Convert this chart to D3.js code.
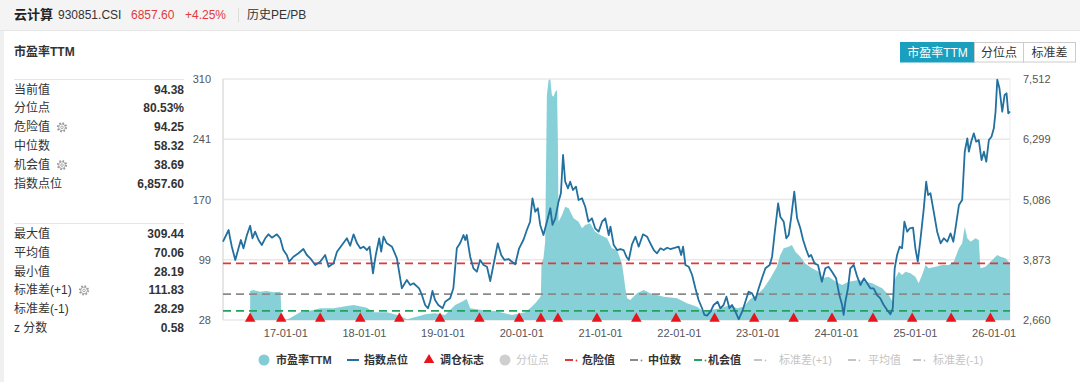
<!DOCTYPE html>
<html><head><meta charset="utf-8">
<script src="https://cdn.jsdelivr.net/npm/d3@7"></script>
<style>
html,body{margin:0;padding:0;background:#fff;}
svg{display:block;font-family:"Liberation Sans","Noto Sans CJK SC",sans-serif;}
</style></head>
<body><svg id="c" width="1080" height="382"></svg>
<script>
// ---------------- DATA ----------------
const indexDates = ["2016-03-18","2016-04-13","2016-04-20","2016-04-28","2016-05-14","2016-05-29","2016-06-09","2016-06-21","2016-07-07","2016-07-22","2016-08-02","2016-08-14","2016-08-30","2016-09-14","2016-09-30","2016-10-15","2016-10-31","2016-11-23","2016-12-08","2016-12-23",
"2017-01-08","2017-01-19","2017-02-08","2017-03-03","2017-03-26","2017-04-11","2017-04-27","2017-05-20","2017-06-12","2017-07-05","2017-07-21","2017-08-13","2017-08-29","2017-09-21","2017-10-14","2017-10-29","2017-11-14","2017-11-30","2017-12-15","2017-12-30",
"2018-01-15","2018-01-27","2018-02-12","2018-02-25","2018-03-13","2018-03-22","2018-04-02","2018-04-17","2018-05-11","2018-06-03","2018-06-26","2018-07-19","2018-08-04","2018-08-19","2018-09-14","2018-09-27","2018-10-12","2018-10-25","2018-11-04","2018-11-15","2018-11-27","2018-12-12",
"2019-01-01","2019-01-13","2019-02-05","2019-02-20","2019-03-08","2019-03-23","2019-04-08","2019-04-16","2019-04-23","2019-05-09","2019-05-24","2019-06-09","2019-06-24","2019-07-10","2019-07-26","2019-08-10","2019-08-25","2019-09-14","2019-09-30","2019-10-15","2019-11-03","2019-11-19","2019-12-04","2019-12-22",
"2020-01-11","2020-01-27","2020-02-11","2020-02-22","2020-03-06","2020-03-18","2020-03-29","2020-04-13","2020-04-29","2020-05-15","2020-05-25","2020-06-07","2020-06-22","2020-07-03","2020-07-13","2020-07-23","2020-08-05","2020-08-15","2020-08-28","2020-09-11","2020-09-23","2020-10-09","2020-10-24","2020-11-08","2020-11-24","2020-12-09","2020-12-25",
"2021-01-10","2021-01-25","2021-02-10","2021-02-18","2021-03-05","2021-03-21","2021-04-05","2021-04-20","2021-05-03","2021-05-14","2021-05-29","2021-06-14","2021-06-29","2021-07-19","2021-08-07","2021-08-22","2021-09-07","2021-09-22","2021-10-08","2021-10-23","2021-11-08","2021-11-23","2021-12-16",
"2022-01-01","2022-01-12","2022-01-21","2022-02-01","2022-02-16","2022-03-04","2022-03-19","2022-04-03","2022-04-19","2022-04-30","2022-05-12","2022-05-28","2022-06-12","2022-06-30","2022-07-13","2022-07-28","2022-08-10","2022-08-24","2022-09-05","2022-09-21","2022-10-06","2022-10-22","2022-11-06","2022-11-21","2022-12-07","2022-12-22",
"2023-01-07","2023-01-22","2023-02-07","2023-02-27","2023-03-10","2023-03-21","2023-04-07","2023-04-17","2023-05-03","2023-05-15","2023-05-26","2023-06-06","2023-06-21","2023-07-04","2023-07-19","2023-08-01","2023-08-16","2023-08-28","2023-09-07","2023-09-23","2023-10-09","2023-10-27","2023-11-12","2023-11-27","2023-12-13",
"2024-01-01","2024-01-16","2024-01-29","2024-02-05","2024-02-13","2024-02-25","2024-03-07","2024-03-23","2024-04-08","2024-04-23","2024-05-09","2024-05-24","2024-06-08","2024-06-23","2024-07-09","2024-07-24","2024-08-09","2024-08-25","2024-09-09","2024-09-20","2024-09-29","2024-10-10","2024-10-22","2024-11-02","2024-11-13","2024-11-26","2024-12-08","2024-12-23",
"2025-01-03","2025-01-14","2025-01-27","2025-02-11","2025-02-22","2025-03-03","2025-03-14","2025-03-29","2025-04-14","2025-04-30","2025-05-15","2025-05-31","2025-06-15","2025-06-28","2025-07-08","2025-07-24","2025-08-08","2025-08-20","2025-09-01","2025-09-08","2025-09-19","2025-10-01","2025-10-12","2025-10-24","2025-11-06","2025-11-17","2025-11-28","2025-12-10","2025-12-22",
"2026-01-02","2026-01-10","2026-01-18","2026-01-28","2026-02-10","2026-02-21","2026-03-02","2026-03-10","2026-03-18"];
const indexValues = [4236,4472,4305,4136,3868,4103,4270,4103,4371,4558,4305,4438,4270,4170,4305,4385,4317,4385,4305,4069,
3969,3834,3934,4003,4089,3969,3902,3767,3834,3969,3733,3801,4035,4170,4305,4156,4385,4204,4103,4136,
4069,4136,3600,3969,4305,4035,4337,4204,4136,3902,3298,3465,3365,3399,3298,3163,2962,2896,3028,3244,3063,2962,
2896,3028,3097,3298,4103,4204,4371,4270,4371,3934,3701,3632,3868,3767,3733,3445,3767,4204,3969,3868,3888,3834,3781,4103,
4270,4472,4639,5110,4840,4909,4573,4371,4639,4909,4573,4707,5042,5211,5982,5444,5311,5444,5277,5344,5076,5110,4941,4639,4707,4506,4438,
4639,4707,4371,4540,4170,4069,4089,4069,3934,3868,4184,4337,4136,4385,4337,4204,4069,4003,4103,4069,4115,4089,4115,
4136,3969,4136,3767,3733,3566,3298,3063,2896,2761,2747,2827,2962,3028,2896,2962,3129,2896,2962,2827,2675,2827,3028,3230,3197,3063,
3298,3499,3701,3767,3934,4371,5009,4740,4639,4305,4371,4707,5243,4707,4506,4270,4069,3934,3969,3801,3767,3431,3701,3733,3632,
3499,3163,2962,2761,3028,3298,3701,3767,3532,3365,3499,3399,3298,3298,3163,3097,2962,2861,2775,2896,3701,3969,4136,4103,4639,4438,4506,4518,
4103,3834,4305,4909,5444,5176,5211,4840,4438,4204,4305,4236,4405,4236,4506,4975,5076,6048,6318,6048,6250,6418,6250,6284,5881,6048,5847,6284,6350,
6519,6853,7500,7324,6853,7190,7224,6821,6857.6];

const peDates = ["2016-07-22","2016-08-06","2016-09-06","2016-10-07","2016-11-06","2016-12-10","2016-12-15","2017-01-08","2017-01-24","2017-03-11","2017-05-12","2017-06-12","2017-08-13","2017-10-14","2017-11-14",
"2018-01-15","2018-02-14","2018-04-17","2018-06-18","2018-07-19","2018-09-19","2018-10-12","2018-11-27",
"2019-01-13","2019-02-28","2019-03-31","2019-04-23","2019-05-09","2019-07-02","2019-09-01","2019-11-19",
"2020-01-19","2020-02-11","2020-03-06","2020-03-25","2020-04-01","2020-04-04","2020-04-13","2020-04-21","2020-04-29","2020-05-07","2020-05-15","2020-05-22","2020-05-30","2020-06-07","2020-06-15","2020-06-19","2020-06-22","2020-07-08","2020-07-23","2020-08-08","2020-08-31","2020-09-23","2020-10-09","2020-10-24","2020-11-16","2020-12-09",
"2021-01-02","2021-02-02","2021-02-25","2021-03-21","2021-04-12","2021-04-20","2021-04-28","2021-05-06","2021-05-21","2021-06-21","2021-07-22","2021-08-22","2021-10-23","2021-12-24",
"2022-02-08","2022-03-27","2022-04-26","2022-05-28","2022-07-13","2022-08-28","2022-09-28","2022-10-29","2022-11-29","2022-12-30",
"2023-01-30","2023-03-02","2023-04-01","2023-04-17","2023-05-03","2023-05-26","2023-06-10","2023-06-26","2023-07-19","2023-08-11","2023-09-11","2023-10-12","2023-10-27","2023-11-27","2023-12-31",
"2024-01-29","2024-02-28","2024-04-15","2024-06-16","2024-08-02","2024-09-01","2024-09-20","2024-10-02","2024-10-18","2024-11-02","2024-11-18","2024-12-11",
"2025-01-03","2025-01-18","2025-02-03","2025-02-19","2025-03-06","2025-04-06","2025-05-07","2025-06-07","2025-06-30","2025-07-24","2025-08-08","2025-08-20","2025-09-01","2025-09-16","2025-10-09","2025-10-24","2025-11-01","2025-11-24","2025-12-17",
"2026-01-18","2026-02-02","2026-02-25","2026-03-18"];
const peValues = [62.0,63.1,61.1,61.9,60.4,61.1,30.3,28.5,30.3,37.0,39.7,41.7,41.7,44.4,45.6,
42.4,37.0,37.0,33.0,29.0,33.0,34.7,35.8,
33.9,45.6,49.4,52.6,41.7,39.7,38.5,33.9,
37.0,41.7,47.5,53.4,56.1,94.7,100.2,119.6,291.3,308.8,309.44,291.3,289.3,295.1,297.1,236.6,143.0,150.9,160.6,158.7,147.0,143.0,135.3,139.2,141.1,131.3,
127.5,123.6,111.9,109.9,94.3,80.7,65.1,53.4,51.4,59.2,63.1,59.2,55.3,53.4,
47.5,43.6,37.7,39.7,41.7,45.6,41.7,43.6,52.6,57.3,
65.1,76.8,90.4,104.1,111.9,113.8,115.8,107.9,102.1,94.0,88.5,84.5,76.8,78.7,72.8,
69.0,72.8,74.8,70.9,65.1,57.3,49.4,76.8,84.5,80.7,84.5,82.6,
78.7,70.9,80.7,92.4,88.5,90.4,92.4,92.4,96.2,111.9,117.7,137.2,123.6,119.6,123.6,121.6,88.5,90.4,96.2,
104.1,102.1,100.2,94.38];

const rebalanceDates = ["2016-07-22","2016-12-13","2017-06-12","2017-12-15","2018-06-14","2018-12-20","2019-06-21","2019-12-22","2020-04-01","2020-06-19","2020-12-17","2021-06-18","2021-12-19","2022-06-16","2022-12-17","2023-06-18","2023-12-13","2024-06-20","2024-12-19","2025-06-18","2025-12-17"];

const refLineNames = ["危险值","中位数","机会值"];
const refLineValues = [94.25, 58.32, 38.69];

const leftTickLabels = ["28","99","170","241","310"];
const rightTickValues = [2660, 3873, 5086, 6299, 7512];
const xTickDates = ["2017-01-01","2018-01-01","2019-01-01","2020-01-01","2021-01-01","2022-01-01","2023-01-01","2024-01-01","2025-01-01","2026-01-01"];

const statLabels1 = ["当前值","分位点","危险值","中位数","机会值","指数点位"];
const statValues1 = ["94.38","80.53%","94.25","58.32","38.69","6,857.60"];
const statLabels2 = ["最大值","平均值","最小值","标准差(+1)","标准差(-1)","z 分数"];
const statValues2 = ["309.44","70.06","28.19","111.83","28.29","0.58"];

const legendLabels = ["市盈率TTM","指数点位","调仓标志","分位点","危险值","中位数","机会值","标准差(+1)","平均值","标准差(-1)"];
const buttonLabels = ["市盈率TTM","分位点","标准差"];

// ---------------- LAYOUT ----------------
const parse = d3.timeParse("%Y-%m-%d");
const svg = d3.select("#c");
const C = {area:"#82cdd5", line:"#22709f", tri:"#e8141c", red:"#e0393b", grey:"#8a8a8a", green:"#24a060"};

svg.append("rect").attr("width",1080).attr("height",382).attr("fill","#fff");
svg.append("rect").attr("width",1080).attr("height",30).attr("fill","#f4f4f4");
svg.append("line").attr("x1",0).attr("x2",1080).attr("y1",30.5).attr("y2",30.5).attr("stroke","#e6e6e6");
svg.append("rect").attr("x",0).attr("y",31).attr("width",4).attr("height",351).attr("fill","#f0f0f0");

// header
const hdr = svg.append("g");
hdr.append("text").attr("x",14).attr("y",19).attr("font-size",13).attr("font-weight","bold").attr("fill","#222").text("云计算");
hdr.append("text").attr("x",58).attr("y",19).attr("font-size",12).attr("fill","#333").text("930851.CSI");
hdr.append("text").attr("x",131).attr("y",19).attr("font-size",12).attr("fill","#e0393e").text("6857.60");
hdr.append("text").attr("x",185).attr("y",19).attr("font-size",12).attr("fill","#e0393e").text("+4.25%");
hdr.append("line").attr("x1",238.5).attr("x2",238.5).attr("y1",8).attr("y2",22).attr("stroke","#dcdcdc");
hdr.append("text").attr("x",247).attr("y",19).attr("font-size",12).attr("fill","#333").text("历史PE/PB");

// left panel
svg.append("text").attr("x",14).attr("y",56).attr("font-size",12).attr("font-weight","bold").attr("fill","#333").text("市盈率TTM");
[79.5, 223.5].forEach(y => svg.append("line").attr("x1",14).attr("x2",184).attr("y1",y).attr("y2",y).attr("stroke","#e6e6e6"));
function statRows(labels, values, y0, dy){
  labels.forEach((l,i)=>{
    const y = y0 + i*dy;
    svg.append("text").attr("x",14).attr("y",y+4).attr("font-size",12).attr("fill","#333").text(l);
    svg.append("text").attr("x",184).attr("y",y+4).attr("font-size",12).attr("font-weight","bold").attr("fill","#333").attr("text-anchor","end").text(values[i]);
  });
}
statRows(statLabels1, statValues1, 89.5, 18.9);
statRows(statLabels2, statValues2, 234.3, 18.7);
function gear(x,y){
  svg.append("circle").attr("cx",x).attr("cy",y).attr("r",4.2).attr("fill","none").attr("stroke","#999").attr("stroke-width",1.8).attr("stroke-dasharray","1.6,1.7");
  svg.append("circle").attr("cx",x).attr("cy",y).attr("r",3.3).attr("fill","none").attr("stroke","#999").attr("stroke-width",0.8);
  svg.append("circle").attr("cx",x).attr("cy",y).attr("r",1.3).attr("fill","none").attr("stroke","#999").attr("stroke-width",0.8);
}
gear(62, 89.5+2*18.9); gear(62, 89.5+4*18.9); gear(84, 234.3+3*18.7);

// buttons
const btnX = [900, 974, 1023, 1075];
buttonLabels.forEach((b,i)=>{
  const active = i===0;
  svg.append("rect").attr("x",btnX[i]+0.5).attr("y",42.5).attr("width",btnX[i+1]-btnX[i]).attr("height",19.5)
    .attr("fill",active?"#1a9fbf":"#fff").attr("stroke",active?"#1a9fbf":"#ccc");
  svg.append("text").attr("x",(btnX[i]+btnX[i+1])/2+0.5).attr("y",56.5).attr("text-anchor","middle").attr("font-size",12)
    .attr("fill",active?"#fff":"#333").text(b);
});

// chart
const L=223, R=1010, T=79, B=320;
const idx = indexDates.map((d,i)=>({d:parse(d), v:indexValues[i]}));
const pe = peDates.map((d,i)=>({d:parse(d), v:peValues[i]}));
const x = d3.scaleTime().domain(d3.extent(idx, d=>d.d)).range([L,R]);
const yL = d3.scaleLinear().domain([28,310]).range([B,T]);
const yR = d3.scaleLinear().domain([rightTickValues[0], rightTickValues[rightTickValues.length-1]]).range([B,T]);

const g = svg.append("g");
// gridlines
g.selectAll(".grid").data(rightTickValues).join("line")
  .attr("x1",L).attr("x2",R).attr("y1",d=>yR(d)).attr("y2",d=>yR(d))
  .attr("stroke","#e8e8e8").attr("stroke-width",1.5);
g.append("line").attr("x1",L).attr("x2",L).attr("y1",T).attr("y2",B).attr("stroke","#dedede").attr("stroke-width",1.5);
g.append("line").attr("x1",R).attr("x2",R).attr("y1",T).attr("y2",B).attr("stroke","#ececec").attr("stroke-width",1);

// axes labels
const leftTickVals = leftTickLabels.map((l,i)=>28 + i*(310-28)/(leftTickLabels.length-1));
const axL = d3.axisLeft(yL).tickValues(leftTickVals).tickFormat((d,i)=>leftTickLabels[i]).tickSize(0).tickPadding(12);
const gL = g.append("g").attr("transform",`translate(${L},0)`).call(axL);
const axR = d3.axisRight(yR).tickValues(rightTickValues).tickFormat(d3.format(",")).tickSize(0).tickPadding(13);
const gR = g.append("g").attr("transform",`translate(${R},0)`).call(axR);
const axB = d3.axisBottom(x).tickValues(xTickDates.map(parse)).tickFormat(d3.timeFormat("%y-%m-%d")).tickSize(0).tickPadding(9);
const gB = g.append("g").attr("transform",`translate(0,${B})`).call(axB);
[gL,gR,gB].forEach(a=>{a.select(".domain").remove(); a.selectAll("text").attr("font-size",11).attr("fill","#555").attr("font-family",null);});

// PE area
g.append("path").datum(pe).attr("fill",C.area).attr("fill-opacity",0.95)
  .attr("d", d3.area().x(d=>x(d.d)).y0(yL(28)).y1(d=>yL(d.v)));

// reference lines
const refColors = [C.red, C.grey, C.green];
g.selectAll(".ref").data(refLineValues).join("line")
  .attr("x1",L).attr("x2",R).attr("y1",d=>yL(d)).attr("y2",d=>yL(d))
  .attr("stroke",(d,i)=>refColors[i]).attr("stroke-width",1.6).attr("stroke-dasharray","8,5");

// index line
g.append("path").datum(idx).attr("fill","none").attr("stroke",C.line).attr("stroke-width",1.8).attr("stroke-linejoin","round")
  .attr("d", d3.line().x(d=>x(d.d)).y(d=>yR(d.v)));

// rebalance triangles
g.selectAll(".tri").data(rebalanceDates.map(parse)).join("path")
  .attr("transform",d=>`translate(${x(d)},${B-1.3})`)
  .attr("d", d3.symbol(d3.symbolTriangle).size(48)).attr("fill",C.tri);

// legend
const LY = 360;
const lg = svg.append("g").attr("font-size",11);
const legX = [264, 347, 429, 505, 565, 630, 694, 754, 848, 913];
const textX = [276, 364, 440, 516, 582, 648, 708, 779, 868, 933];
const active = [true,true,true,false,true,true,true,false,false,false];
const inactive = "#c4c4c4";
legendLabels.forEach((lab,i)=>{
  const mx = legX[i];
  if(i===0) lg.append("circle").attr("cx",mx).attr("cy",LY).attr("r",5.5).attr("fill",C.area);
  else if(i===1) lg.append("line").attr("x1",mx).attr("x2",mx+12).attr("y1",LY).attr("y2",LY).attr("stroke",C.line).attr("stroke-width",2);
  else if(i===2) lg.append("path").attr("transform",`translate(${mx},${LY})`).attr("d",d3.symbol(d3.symbolTriangle).size(48)).attr("fill",C.tri);
  else if(i===3) lg.append("circle").attr("cx",mx).attr("cy",LY).attr("r",5.5).attr("fill","#cfcfcf");
  else {
    const col = i===4?C.red : i===5?C.grey : i===6?C.green : inactive;
    lg.append("line").attr("x1",mx).attr("x2",mx+8).attr("y1",LY).attr("y2",LY).attr("stroke",col).attr("stroke-width",2);
    lg.append("circle").attr("cx",mx+11.5).attr("cy",LY+0.5).attr("r",0.9).attr("fill",col);
  }
  lg.append("text").attr("x",textX[i]).attr("y",LY+4).attr("fill",active[i]?"#333":inactive)
    .attr("font-weight",active[i]?"bold":"normal").text(lab);
});
</script></body></html>
